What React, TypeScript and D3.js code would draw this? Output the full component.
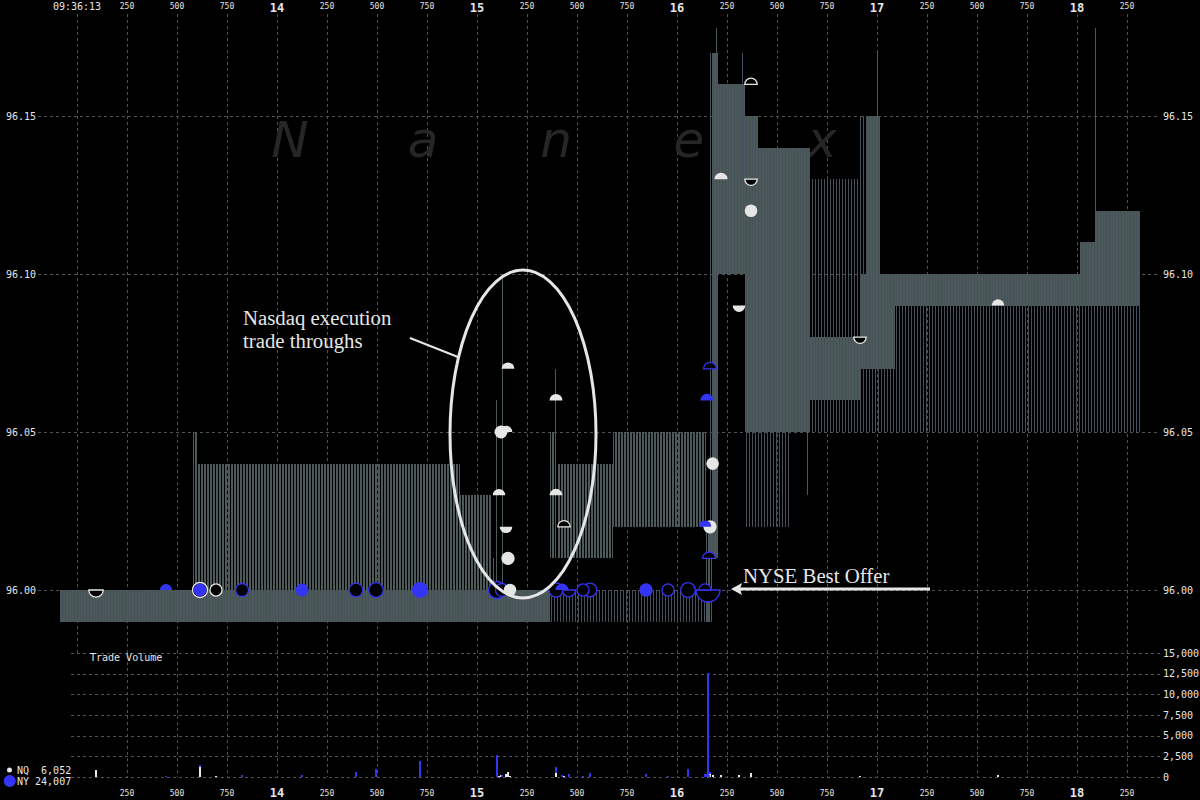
import React from 'react';
import * as d3 from 'd3';

// time in ms after 09:36:13.000, prices in dollars
const nqQuotes: [number, number, number, number][] = [
  [-85, 580, 95.99, 96.0],
  [580, 600, 95.99, 96.05],
  [600, 1915, 95.99, 96.04],
  [1915, 2075, 95.99, 96.03],
  [2075, 2365, 95.99, 96.0],
  [2080, 2085, 95.99, 96.01],
  [2095, 2100, 95.99, 96.06],
  [2125, 2132, 95.99, 96.1],
  [2365, 2390, 96.01, 96.05],
  [2390, 2405, 96.01, 96.07],
  [2405, 2680, 96.01, 96.04],
  [2680, 3145, 96.02, 96.05],
  [3145, 3175, 95.99, 96.02],
  [3175, 3205, 96.01, 96.17],
  [3197, 3202, 96.02, 96.178],
  [3205, 3340, 96.1, 96.16],
  [3340, 3405, 96.05, 96.15],
  [3405, 3665, 96.05, 96.14],
  [3650, 3660, 96.03, 96.05],
  [3665, 3915, 96.06, 96.08],
  [3915, 3945, 96.07, 96.1],
  [3945, 4015, 96.07, 96.15],
  [4000, 4005, 96.12, 96.17],
  [4015, 4090, 96.07, 96.1],
  [4090, 5015, 96.09, 96.1],
  [5015, 5090, 96.09, 96.11],
  [5090, 5315, 96.09, 96.12],
  [5090, 5095, 96.12, 96.178],
];

const nyQuotes: [number, number, number, number][] = [
  [-85, 3165, 95.99, 96.0],
  [3165, 3205, 96.01, 96.17],
  [3205, 3340, 96.1, 96.16],
  [3325, 3332, 96.13, 96.17],
  [3340, 3405, 96.02, 96.15],
  [3405, 3565, 96.02, 96.14],
  [3565, 3665, 96.05, 96.14],
  [3665, 3915, 96.05, 96.13],
  [3915, 4015, 96.05, 96.15],
  [4015, 5015, 96.05, 96.1],
  [5015, 5090, 96.05, 96.11],
  [5090, 5315, 96.05, 96.12],
];

// [ms, price, exchange, shares, shape (o circle, a at/above, b at/below), hollow]
type Trade = [number, number, string, number, string, boolean];
const trades: Trade[] = [
  [95, 96.0, 'NQ', 850, 'b', true],
  [615, 96.0, 'NQ', 1200, 'o', true],
  [695, 96.0, 'NQ', 100, 'o', true],
  [2110, 96.03, 'NQ', 150, 'a', false],
  [2120, 96.05, 'NQ', 250, 'o', false],
  [2145, 96.05, 'NQ', 150, 'a', false],
  [2145, 96.02, 'NQ', 200, 'b', false],
  [2155, 96.07, 'NQ', 250, 'a', false],
  [2155, 96.01, 'NQ', 400, 'o', false],
  [2165, 96.0, 'NQ', 150, 'o', false],
  [2395, 96.06, 'NQ', 250, 'a', false],
  [2395, 96.03, 'NQ', 250, 'a', false],
  [2435, 96.02, 'NQ', 150, 'a', true],
  [3165, 96.02, 'NQ', 400, 'o', false],
  [3178, 96.04, 'NQ', 200, 'o', false],
  [3220, 96.13, 'NQ', 300, 'a', false],
  [3310, 96.09, 'NQ', 200, 'b', false],
  [3370, 96.16, 'NQ', 150, 'a', true],
  [3370, 96.13, 'NQ', 150, 'b', true],
  [3370, 96.12, 'NQ', 200, 'o', false],
  [3915, 96.08, 'NQ', 150, 'b', true],
  [4605, 96.09, 'NQ', 200, 'a', false],
  [445, 96.0, 'NY', 100, 'a', false],
  [615, 96.0, 'NY', 300, 'o', false],
  [825, 96.0, 'NY', 300, 'o', true],
  [1125, 96.0, 'NY', 250, 'o', false],
  [1395, 96.0, 'NY', 550, 'o', true],
  [1495, 96.0, 'NY', 1000, 'o', true],
  [1715, 96.0, 'NY', 1950, 'o', false],
  [2100, 96.0, 'NY', 2700, 'o', true],
  [2125, 96.0, 'NY', 300, 'o', true],
  [2395, 96.0, 'NY', 700, 'o', true],
  [2425, 96.0, 'NY', 300, 'a', false],
  [2460, 96.0, 'NY', 400, 'b', true],
  [2530, 96.0, 'NY', 100, 'o', true],
  [2565, 96.0, 'NY', 500, 'o', true],
  [2845, 96.0, 'NY', 400, 'o', false],
  [2955, 96.0, 'NY', 100, 'o', true],
  [3055, 96.0, 'NY', 1000, 'o', true],
  [3140, 96.0, 'NY', 150, 'a', true],
  [3155, 96.0, 'NY', 12600, 'b', true],
  [3140, 96.02, 'NY', 200, 'a', false],
  [3150, 96.06, 'NY', 400, 'a', false],
  [3165, 96.07, 'NY', 250, 'a', true],
  [3160, 96.01, 'NY', 250, 'a', true],
];

const legendRows = [
  ['NQ', ' 6,052'],
  ['NY', '24,007'],
];
const priceTicks = [96.0, 96.05, 96.1, 96.15];
const volumeTicks = [0, 2500, 5000, 7500, 10000, 12500, 15000];
const timeTicks = d3.range(0, 5251, 250);
const watermark = ['N', 'a', 'n', 'e', 'x'];

const GRAY = '#4b5959';
const QBLUE = '#45505a';
const BLUE = '#3434f4';
const WHITE = '#e6e6e6';
const GRID = '#525252';
const mono = 'DejaVu Sans Mono, monospace';

export default function App() {
  const x = d3.scaleLinear().domain([0, 5000]).range([77, 1077]);
  const y = d3.scaleLinear().domain([96.0, 96.15]).range([590, 116]);
  const yv = d3.scaleLinear().domain([0, 15000]).range([777, 653]);
  const rScale = d3.scaleSqrt().domain([0, 12700]).range([0, 6.5]);
  const rad = (s: number) => 5.5 + rScale(s);

  const quoteRect = (q: [number, number, number, number], ex: string, i: number) => {
    const x0 = Math.round(x(q[0]));
    const x1 = Math.round(x(q[1]));
    const w = Math.max(1, x1 - x0);
    const top = Math.round(y(q[3]));
    const bot = Math.round(y(q[2]));
    const thin = w < 4;
    const fill = thin ? (ex === 'NQ' ? GRAY : QBLUE) : `url(#pat-${ex})`;
    return <rect key={ex + i} x={x0} y={top} width={thin ? 1 : w} height={bot - top} fill={fill} />;
  };

  // stacked volume per pixel column: NQ at bottom, NY on top
  const cols = d3.rollup(
    trades,
    (v) => ({
      nq: d3.sum(v.filter((t) => t[2] === 'NQ'), (t) => t[3]),
      ny: d3.sum(v.filter((t) => t[2] === 'NY'), (t) => t[3]),
    }),
    (t) => Math.round(x(t[0]))
  );

  const markers = [...trades].sort((a, b) => b[3] - a[3]);
  const markerPath = (shape: string, r: number) =>
    shape === 'a'
      ? `M${-r},0A${r},${r} 0 0 1 ${r},0Z`
      : `M${-r},0A${r},${r} 0 0 0 ${r},0Z`;

  return (
    <svg width={1200} height={800} style={{ position: 'absolute', left: 0, top: 0, background: '#000' }}>
      <defs>
        <pattern id="pat-NQ" patternUnits="userSpaceOnUse" x={0} y={0} width={3} height={8}>
          <rect x={0} y={0} width={2} height={8} fill={GRAY} />
        </pattern>
        <pattern id="pat-NY" patternUnits="userSpaceOnUse" x={0} y={0} width={3} height={8}>
          <rect x={2} y={0} width={1} height={8} fill={QBLUE} />
        </pattern>
      </defs>
      <rect width={1200} height={800} fill="#000" />

      {/* grid */}
      {timeTicks.map((t) => (
        <line key={'vg' + t} x1={x(t)} x2={x(t)} y1={14} y2={t === 0 ? 655 : 777}
          stroke={GRID} strokeDasharray="3,3" shapeRendering="crispEdges" />
      ))}
      {priceTicks.map((p) => (
        <line key={'pg' + p} x1={38} x2={1160} y1={Math.round(y(p))} y2={Math.round(y(p))}
          stroke={GRID} strokeDasharray="3,3" shapeRendering="crispEdges" />
      ))}
      {volumeTicks.map((v) => (
        <line key={'vvg' + v} x1={71} x2={1160} y1={Math.round(yv(v))} y2={Math.round(yv(v))}
          stroke={GRID} strokeDasharray="3,3" shapeRendering="crispEdges" />
      ))}

      {/* watermark */}
      {watermark.map((c, i) => (
        <text key={'wm' + i} x={290 + i * 133} y={157} fill="#262626" fontSize={50}
          fontStyle="italic" fontFamily="DejaVu Sans, sans-serif" textAnchor="middle">{c}</text>
      ))}

      {/* quotes */}
      <g shapeRendering="crispEdges">
        {nqQuotes.map((q, i) => quoteRect(q, 'NQ', i))}
        {nyQuotes.map((q, i) => quoteRect(q, 'NY', i))}
      </g>

      {/* trade markers */}
      {markers.map((t, i) => {
        const col = t[2] === 'NQ' ? WHITE : BLUE;
        const r = rad(t[3]);
        const cx = x(t[0]);
        const cy = y(t[1]);
        const fill = t[5] ? '#000' : col;
        const stroke = t[5] ? col : 'none';
        return t[4] === 'o' ? (
          <circle key={'m' + i} cx={cx} cy={cy} r={r} fill={fill} stroke={stroke} strokeWidth={1.3} />
        ) : (
          <path key={'m' + i} d={markerPath(t[4], r)} transform={`translate(${cx},${cy})`}
            fill={fill} stroke={stroke} strokeWidth={1.3} />
        );
      })}

      {/* volume bars */}
      <g shapeRendering="crispEdges">
        {[...cols].map(([cx, v]) => (
          <g key={'vb' + cx}>
            {v.nq > 0 && <rect x={cx - 1} y={yv(v.nq)} width={2} height={yv(0) - yv(v.nq)} fill={WHITE} />}
            {v.ny > 0 && (
              <rect x={cx - 1} y={yv(v.nq + v.ny)} width={2} height={yv(v.nq) - yv(v.nq + v.ny)} fill={BLUE} />
            )}
          </g>
        ))}
      </g>

      {/* time labels */}
      {timeTicks.map((t) => {
        const whole = t % 1000 === 0;
        const label = t === 0 ? '09:36:13' : whole ? String(13 + t / 1000) : String(t % 1000);
        const big = whole && t !== 0;
        return (
          <g key={'tl' + t} fill={WHITE} fontFamily={mono} textAnchor="middle">
            <text x={x(t)} y={big ? 11.5 : t === 0 ? 10 : 9} fontSize={big ? 12 : t === 0 ? 10 : 8}
              fontWeight={big ? 'bold' : 'normal'}>{label}</text>
            {t > 0 && (
              <text x={x(t)} y={big ? 797 : 796} fontSize={big ? 12 : 8} fontWeight={big ? 'bold' : 'normal'}>
                {label}
              </text>
            )}
          </g>
        );
      })}

      {/* price labels */}
      {priceTicks.map((p) => (
        <g key={'pl' + p} fill={WHITE} fontFamily={mono} fontSize={10}>
          <text x={6} y={y(p) + 3.5}>{p.toFixed(2)}</text>
          <text x={1163} y={y(p) + 3.5}>{p.toFixed(2)}</text>
        </g>
      ))}

      {/* volume labels */}
      {volumeTicks.map((v) => (
        <text key={'vl' + v} x={1163} y={yv(v) + 3.5} fill={WHITE} fontFamily={mono} fontSize={10}>
          {d3.format(',')(v)}
        </text>
      ))}
      <text x={90} y={661} fill={WHITE} fontFamily={mono} fontSize={10}>Trade Volume</text>

      {/* legend */}
      <circle cx={9.5} cy={770} r={2.5} fill={WHITE} />
      <circle cx={9.7} cy={781} r={6} fill={BLUE} />
      {legendRows.map((row, i) => (
        <text key={'lg' + i} x={17} y={774 + i * 11} fill={WHITE} fontFamily={mono} fontSize={10}
          style={{ whiteSpace: 'pre' }}>{`${row[0]} ${row[1]}`}</text>
      ))}

      {/* annotations */}
      <ellipse cx={523} cy={434} rx={73} ry={164} fill="none" stroke={WHITE} strokeWidth={3} />
      <line x1={410} y1={338} x2={458} y2={357} stroke={WHITE} strokeWidth={2} />
      <g fill={WHITE} fontFamily="Liberation Serif, serif" fontSize={20.8}>
        <text x={243} y={325}>Nasdaq execution</text>
        <text x={243} y={348}>trade throughs</text>
        <text x={743} y={583}>NYSE Best Offer</text>
      </g>
      <line x1={930} y1={589} x2={740} y2={589} stroke={WHITE} strokeWidth={3} />
      <path d="M731,589L742,583L740,589L742,595Z" fill={WHITE} />
    </svg>
  );
}
